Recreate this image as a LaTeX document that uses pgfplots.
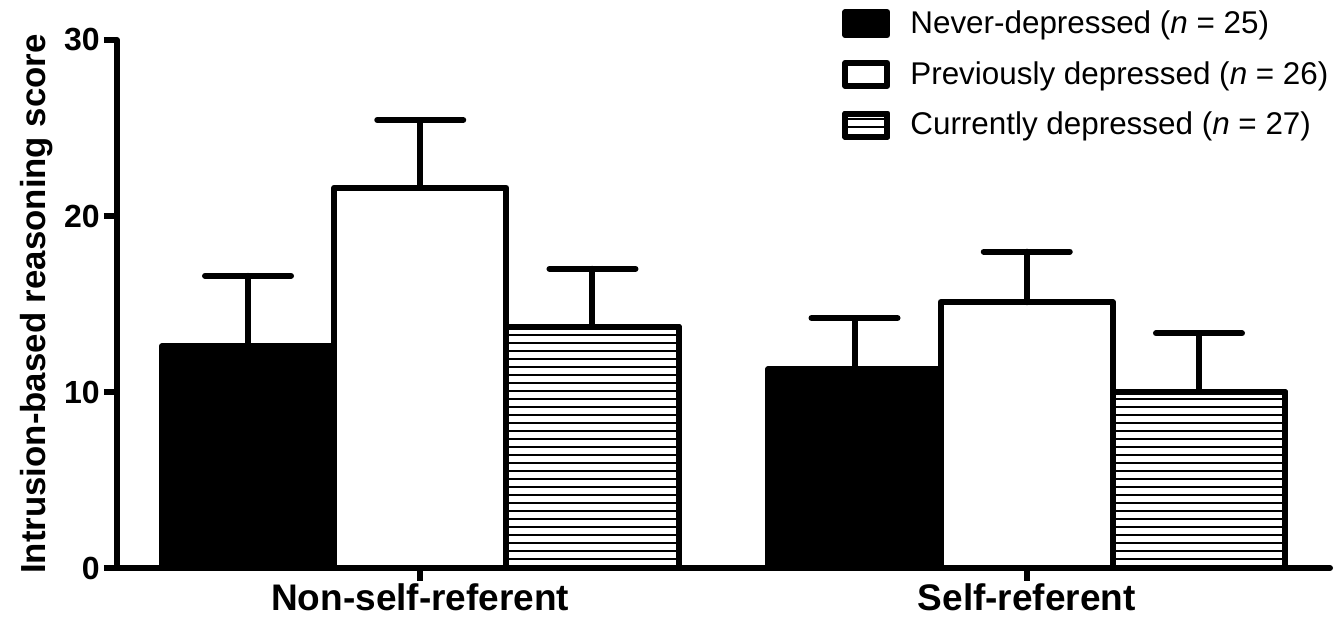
\documentclass[border=0pt]{standalone}
\usepackage{fontspec}
\setmainfont{Liberation Sans}
\usepackage{pgfplots}
\pgfplotsset{compat=1.18}
\usetikzlibrary{patterns,calc}
\pgfdeclarepatternformonly{hlines}{\pgfpoint{-1pt}{-1pt}}{\pgfpoint{100pt}{3pt}}{\pgfpoint{100pt}{4pt}}{%
  \pgfsetlinewidth{0.75pt}%
  \pgfpathmoveto{\pgfpoint{-1pt}{0.5pt}}%
  \pgfpathlineto{\pgfpoint{101pt}{0.5pt}}%
  \pgfusepath{stroke}}
\tikzset{hatch/.style={draw=black, fill=white, postaction={pattern=hlines}}}
\begin{document}
\begin{tikzpicture}
\begin{axis}[
  scale only axis, width=606.5pt, height=264pt,
  xmin=-0.5, xmax=1.5, ymin=0, ymax=30,
  axis x line*=bottom, axis y line*=left,
  axis line style={line width=3pt, line cap=round},
  tick style={black, line width=3pt},
  major tick length=6.5pt, tick align=outside,
  xtick={0,1}, xticklabels={Non-self-referent, Self-referent},
  ytick={0,10,20,30},
  /pgf/number format/assume math mode=true,
  x tick label style={font=\bfseries\fontsize{18.5}{20}\selectfont, inner sep=0pt, yshift=-1pt, anchor=north},
  y tick label style={font=\bfseries\fontsize{16}{18}\selectfont, inner sep=2pt},
  ylabel={Intrusion-based reasoning score},
  ylabel style={font=\bfseries\fontsize{17.4}{19}\selectfont, at={(axis description cs:-0.066,0.5)}, anchor=center},
  legend image code/.code={\draw[#1, line width=3pt, line join=round] (0pt,-5.75pt) rectangle (21pt,5.75pt);},
  legend style={at={(rel axis cs:0.598,1.063)}, anchor=north west, draw=none, fill=none, inner sep=0pt, outer sep=0pt,
    font=\fontsize{15.7}{18}\selectfont, row sep=8.5pt, cells={anchor=west},
    /tikz/every odd column/.append style={column sep=8pt}},
  legend cell align=left,
  every axis plot/.append style={ybar, bar width=0.284, bar shift=0, line width=3pt, line join=round, forget plot},
  eb/.style={error bars/.cd, y dir=plus, y explicit, error bar style={line width=3pt, line cap=round},
  error mark options={rotate=90, mark size=21.5pt, line width=3pt, line cap=round}},
]
\addplot[draw=black, fill=black, eb]
  coordinates {(-0.284,12.6) +- (0,4.0) (0.716,11.3) +- (0,2.9)};
\addplot[draw=black, fill=white, eb]
  coordinates {(0,21.6) +- (0,3.85) (1,15.1) +- (0,2.87)};
\addplot[hatch, eb]
  coordinates {(0.284,13.7) +- (0,3.3) (1.284,10.0) +- (0,3.33)};
\addlegendimage{draw=black, fill=black}
\addlegendentry{Never-depressed (\textit{n} = 25)}
\addlegendimage{draw=black, fill=white}
\addlegendentry{Previously depressed (\textit{n} = 26)}
\addlegendimage{hatch}
\addlegendentry{Currently depressed (\textit{n} = 27)}
\end{axis}
\pgfresetboundingbox
\path ($(current axis.south west)+(-58.5pt,-28pt)$) rectangle ($(current axis.north east)+(2pt,20pt)$);
\end{tikzpicture}
\end{document}
